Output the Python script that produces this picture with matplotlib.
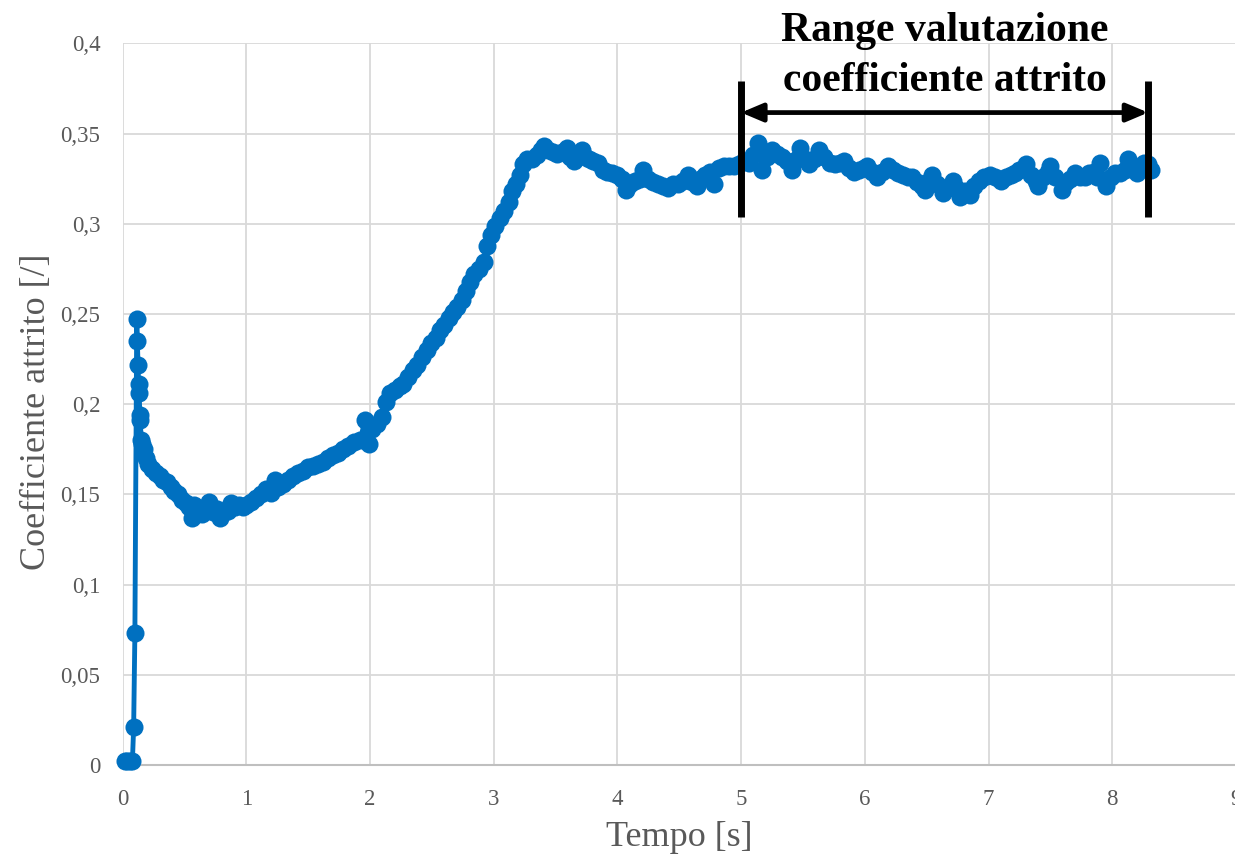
import matplotlib.pyplot as plt

plt.rcParams['font.family'] = ['Liberation Serif', 'DejaVu Serif']

# friction coefficient vs time
tempo = [
    0.02, 0.04, 0.06, 0.08, 0.09, 0.10, 0.115, 0.12, 0.125, 0.13, 0.135, 0.14,
    0.145, 0.15, 0.16, 0.17, 0.19, 0.21, 0.24, 0.27, 0.30, 0.33, 0.36, 0.39,
    0.42, 0.45, 0.48, 0.51, 0.54, 0.56, 0.58, 0.61, 0.64, 0.67, 0.70, 0.73,
    0.76, 0.79, 0.82, 0.85, 0.88, 0.91, 0.94, 0.97, 1.00, 1.04, 1.08, 1.12,
    1.16, 1.20, 1.23, 1.26, 1.30, 1.34, 1.38, 1.42, 1.46, 1.50, 1.54, 1.58,
    1.62, 1.66, 1.70, 1.74, 1.78, 1.82, 1.87, 1.92, 1.96, 1.99, 2.02, 2.06,
    2.10, 2.13, 2.16, 2.20, 2.24, 2.27, 2.31, 2.35, 2.38, 2.42, 2.46, 2.49,
    2.53, 2.57, 2.60, 2.64, 2.67, 2.70, 2.74, 2.78, 2.81, 2.84, 2.88, 2.92,
    2.95, 2.98, 3.01, 3.05, 3.08, 3.12, 3.15, 3.18, 3.21, 3.24, 3.27, 3.31,
    3.35, 3.38, 3.41, 3.44, 3.48, 3.51, 3.55, 3.59, 3.62, 3.65, 3.68, 3.71,
    3.74, 3.77, 3.80, 3.84, 3.88, 3.92, 3.96, 4.00, 4.04, 4.07, 4.10, 4.14,
    4.18, 4.21, 4.25, 4.29, 4.33, 4.37, 4.41, 4.45, 4.49, 4.53, 4.57, 4.60,
    4.64, 4.67, 4.71, 4.75, 4.78, 4.82, 4.86, 4.90, 4.94, 4.98, 5.02, 5.06,
    5.10, 5.14, 5.17, 5.21, 5.25, 5.29, 5.33, 5.37, 5.41, 5.45, 5.48, 5.52,
    5.55, 5.59, 5.63, 5.67, 5.72, 5.76, 5.80, 5.83, 5.87, 5.91, 5.95, 5.99,
    6.02, 6.06, 6.10, 6.14, 6.19, 6.23, 6.27, 6.31, 6.35, 6.38, 6.42, 6.46,
    6.49, 6.52, 6.54, 6.58, 6.63, 6.67, 6.71, 6.74, 6.77, 6.81, 6.85, 6.88,
    6.92, 6.96, 7.01, 7.05, 7.10, 7.14, 7.18, 7.21, 7.25, 7.30, 7.34, 7.38,
    7.40, 7.44, 7.48, 7.50, 7.54, 7.59, 7.63, 7.66, 7.70, 7.74, 7.78, 7.81,
    7.85, 7.88, 7.90, 7.95, 7.99, 8.02, 8.06, 8.10, 8.13, 8.17, 8.20, 8.23,
    8.26, 8.29, 8.31,
]
coeff = [
    0.002, 0.002, 0.002, 0.002, 0.021, 0.073, 0.247, 0.235, 0.222, 0.211, 0.206, 0.194,
    0.191, 0.180, 0.178, 0.175, 0.170, 0.167, 0.164, 0.162, 0.160, 0.158, 0.157, 0.154,
    0.152, 0.150, 0.147, 0.145, 0.143, 0.137, 0.144, 0.140, 0.139, 0.141, 0.146, 0.140,
    0.142, 0.137, 0.140, 0.141, 0.145, 0.143, 0.144, 0.143, 0.144, 0.146, 0.148, 0.150,
    0.153, 0.151, 0.158, 0.154, 0.156, 0.158, 0.160, 0.162, 0.163, 0.165, 0.166, 0.167,
    0.168, 0.170, 0.172, 0.173, 0.175, 0.177, 0.179, 0.180, 0.191, 0.178, 0.186, 0.189,
    0.193, 0.201, 0.206, 0.208, 0.210, 0.211, 0.215, 0.219, 0.222, 0.226, 0.230, 0.234,
    0.237, 0.241, 0.244, 0.248, 0.251, 0.254, 0.258, 0.263, 0.268, 0.272, 0.275, 0.279,
    0.288, 0.294, 0.299, 0.303, 0.307, 0.312, 0.318, 0.322, 0.327, 0.333, 0.336, 0.336,
    0.338, 0.341, 0.343, 0.341, 0.340, 0.339, 0.340, 0.342, 0.337, 0.335, 0.338, 0.341,
    0.337, 0.336, 0.335, 0.334, 0.330, 0.329, 0.328, 0.327, 0.325, 0.319, 0.322, 0.324,
    0.325, 0.330, 0.325, 0.323, 0.322, 0.321, 0.320, 0.322, 0.322, 0.324, 0.327, 0.323,
    0.321, 0.325, 0.327, 0.329, 0.322, 0.331, 0.332, 0.332, 0.332, 0.333, 0.335, 0.334,
    0.338, 0.345, 0.330, 0.337, 0.341, 0.339, 0.337, 0.335, 0.330, 0.336, 0.342, 0.336,
    0.333, 0.336, 0.341, 0.337, 0.334, 0.333, 0.334, 0.335, 0.331, 0.329, 0.330, 0.331,
    0.332, 0.329, 0.326, 0.329, 0.332, 0.330, 0.328, 0.327, 0.326, 0.326, 0.323, 0.321,
    0.319, 0.324, 0.327, 0.322, 0.317, 0.320, 0.324, 0.320, 0.315, 0.318, 0.316, 0.321,
    0.324, 0.326, 0.327, 0.326, 0.324, 0.326, 0.327, 0.328, 0.330, 0.333, 0.327, 0.324,
    0.321, 0.326, 0.329, 0.332, 0.326, 0.319, 0.323, 0.325, 0.328, 0.326, 0.326, 0.328,
    0.329, 0.326, 0.334, 0.321, 0.326, 0.328, 0.328, 0.330, 0.336, 0.332, 0.328, 0.332,
    0.334, 0.333, 0.330,
]

x_ticks = list(range(0, 10))
y_ticks = [0, 0.05, 0.1, 0.15, 0.2, 0.25, 0.3, 0.35, 0.4]
y_labels = ["0", "0,05", "0,1", "0,15", "0,2", "0,25", "0,3", "0,35", "0,4"]

# evaluation range
T_START, T_END = 5.0, 8.29

BLUE = "#0070C0"
GREY_TXT = "#595959"

fig = plt.figure(figsize=(12.35, 8.56), dpi=100)
ax = fig.add_axes([0.0992, 0.1063, 0.9016, 0.8429])

ax.plot(tempo, coeff, color=BLUE, lw=3.5, marker="o", ms=13,
        markeredgewidth=0, zorder=3, clip_on=False)

ax.set_xlim(0, 9)
ax.set_ylim(0, 0.4)
ax.set_xticks(x_ticks)
ax.set_yticks(y_ticks)
ax.set_yticklabels(y_labels)
ax.grid(True, color="#D9D9D9", lw=1.3)
ax.set_axisbelow(True)
ax.tick_params(length=0, labelsize=16.5, labelcolor=GREY_TXT)
ax.tick_params(axis="y", pad=16)
ax.tick_params(axis="x", pad=17)
for s in ["top", "right", "left"]:
    ax.spines[s].set_visible(False)
ax.spines["bottom"].set_color("#BFBFBF")
ax.spines["bottom"].set_linewidth(1.5)

ax.set_xlabel("Tempo [s]", fontsize=26, color=GREY_TXT)
ax.xaxis.set_label_coords(0.5, -0.078)
ax.set_ylabel("Coefficiente attrito [/]", fontsize=26, color=GREY_TXT)
ax.yaxis.set_label_coords(-0.062, 0.49)

# range markers
for t in (T_START, T_END):
    ax.plot([t, t], [0.304, 0.379], color="black", lw=5, solid_capstyle="butt",
            zorder=5, clip_on=False)
ax.annotate("", xy=(T_START, 0.3617), xytext=(T_END, 0.3617),
            arrowprops=dict(arrowstyle="<|-|>,head_length=1.3,head_width=0.55",
                            color="black", lw=3.4, shrinkA=0, shrinkB=0),
            zorder=5)
ax.text((T_START + T_END) / 2, 0.3687, "Range valutazione\ncoefficiente attrito",
        ha="center", va="bottom", fontsize=30, fontweight="bold",
        linespacing=1.42, zorder=6)

fig.savefig("out.png", dpi=100)
